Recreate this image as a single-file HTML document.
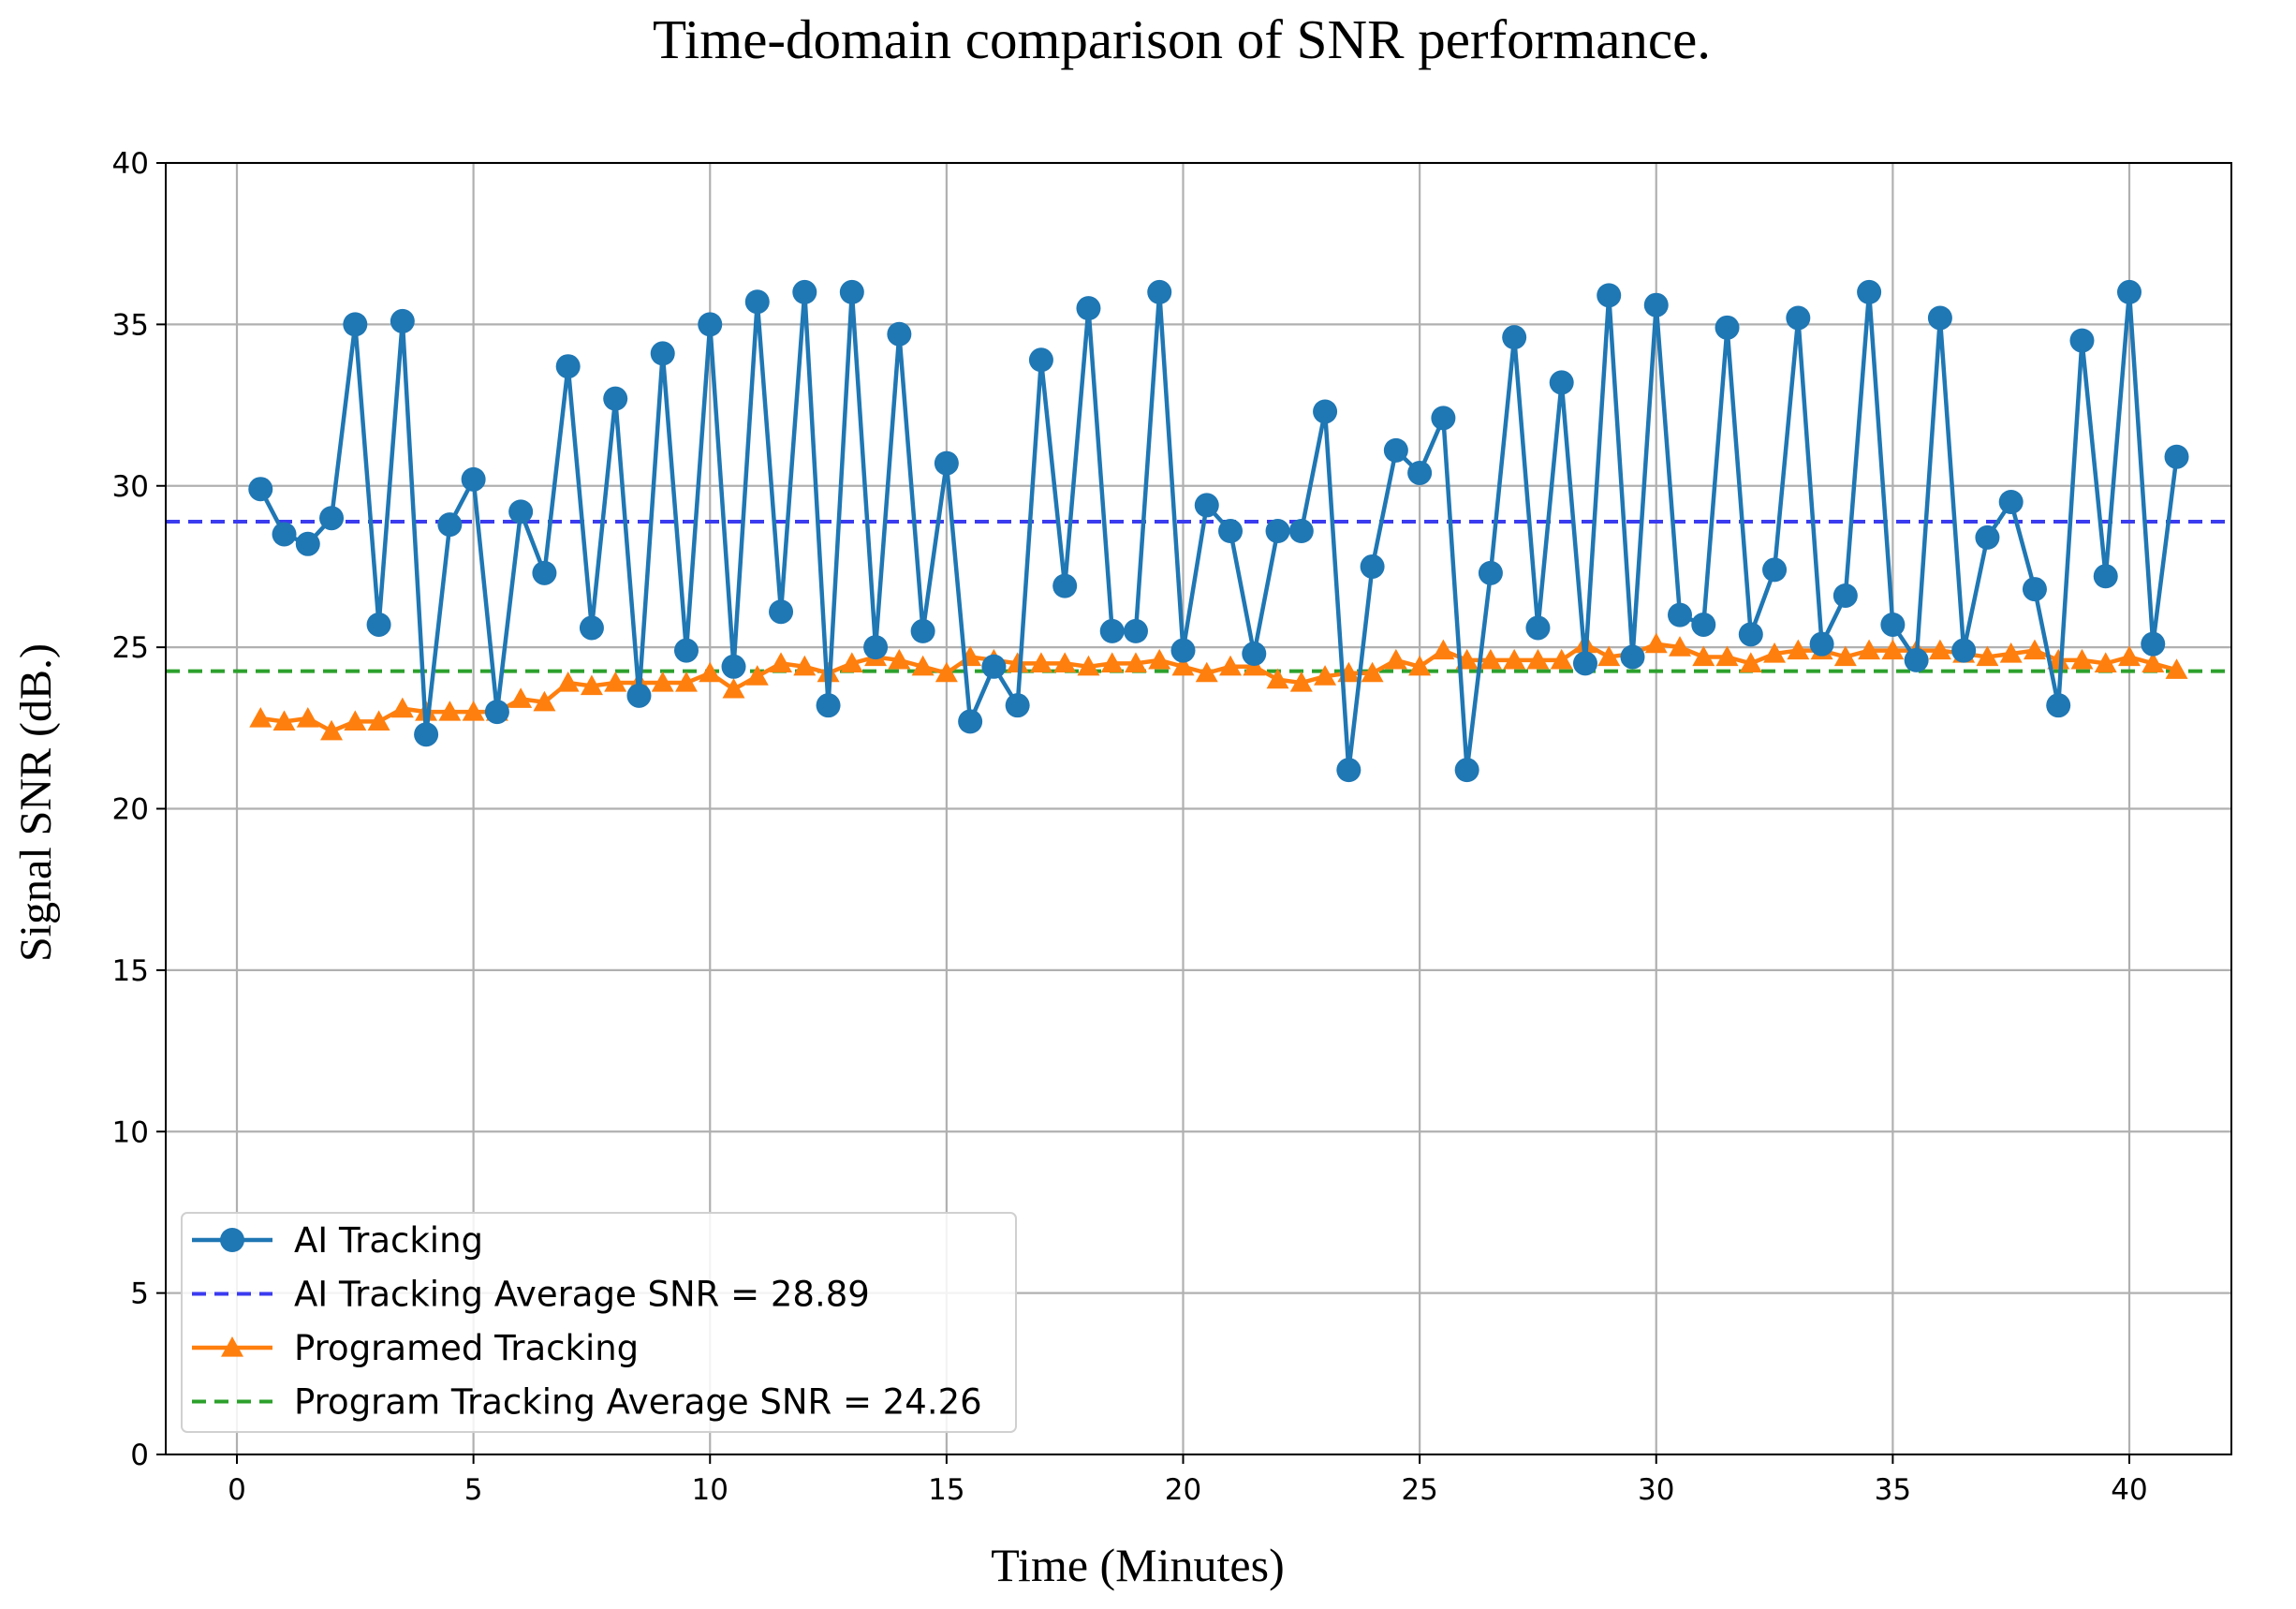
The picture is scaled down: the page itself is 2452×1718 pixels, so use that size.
<!DOCTYPE html>
<html><head><meta charset="utf-8">
<style>
html,body{margin:0;padding:0;background:#fff;}
svg{display:block;}
</style></head>
<body>
<svg id="chart" width="2452" height="1718" xmlns="http://www.w3.org/2000/svg">
<text x="1262" y="62" text-anchor="middle" font-family="Liberation Serif, serif" font-size="59">Time-domain comparison of SNR performance.</text>
<g id="grid"></g>
<g id="ticks"></g>
<g id="series"></g>
<rect x="177" y="174" width="2206" height="1379" fill="none" stroke="#000" stroke-width="2"/>
<text transform="translate(54,857) rotate(-90)" text-anchor="middle" font-family="Liberation Serif, serif" font-size="48">Signal SNR (dB.)</text>
<text x="1215" y="1688" text-anchor="middle" font-family="Liberation Serif, serif" font-size="50">Time (Minutes)</text>
<g id="legend"></g>
</svg>
<script>
const times = [];
for (let i = 1; i <= 82; i++) times.push(i * 0.5);
const aiValues = [29.9,28.5,28.2,29.0,35.0,25.7,35.1,22.3,28.8,30.2,23.0,29.2,27.3,33.7,25.6,32.7,23.5,34.1,24.9,35.0,24.4,35.7,26.1,36.0,23.2,36.0,25.0,34.7,25.5,30.7,22.7,24.4,23.2,33.9,26.9,35.5,25.5,25.5,36.0,24.9,29.4,28.6,24.8,28.6,28.6,32.3,21.2,27.5,31.1,30.4,32.1,21.2,27.3,34.6,25.6,33.2,24.5,35.9,24.7,35.6,26.0,25.7,34.9,25.4,27.4,35.2,25.1,26.6,36.0,25.7,24.6,35.2,24.9,28.4,29.5,26.8,23.2,34.5,27.2,36.0,25.1,30.9];
const progValues = [22.8,22.7,22.8,22.4,22.7,22.7,23.1,23.0,23.0,23.0,23.0,23.4,23.3,23.9,23.8,23.9,23.9,23.9,23.9,24.2,23.7,24.1,24.5,24.4,24.2,24.5,24.7,24.6,24.4,24.2,24.7,24.6,24.5,24.5,24.5,24.4,24.5,24.5,24.6,24.4,24.2,24.4,24.4,24.0,23.9,24.1,24.2,24.2,24.6,24.4,24.9,24.6,24.6,24.6,24.6,24.6,25.1,24.7,24.8,25.1,25.0,24.7,24.7,24.5,24.8,24.9,24.9,24.7,24.9,24.9,24.9,24.9,24.8,24.7,24.8,24.9,24.6,24.6,24.5,24.7,24.5,24.3];
const aiAverage = 28.89;
const progAverage = 24.26;
const xTicks = [0,5,10,15,20,25,30,35,40];
const yTicks = [0,5,10,15,20,25,30,35,40];

const NS = 'http://www.w3.org/2000/svg';
const X0 = 253, X40 = 2274, L = 177, R = 2383, T = 174, B = 1553;
const xs = v => X0 + (X40 - X0) * v / 40;
const ys = v => B - (B - T) * v / 40;
function mk(tag, attrs, parent) {
  const e = document.createElementNS(NS, tag);
  for (const k in attrs) e.setAttribute(k, attrs[k]);
  parent.appendChild(e);
  return e;
}
const grid = document.getElementById('grid');
const ticks = document.getElementById('ticks');
xTicks.forEach(t => {
  const g = mk('line', {x1: xs(t), x2: xs(t), y1: T, y2: B, stroke: '#b0b0b0', 'stroke-width': 2.2}, grid);
  
  
  mk('line', {x1: xs(t), x2: xs(t), y1: B, y2: B + 10, stroke: '#000', 'stroke-width': 2}, ticks);
  const tx = mk('text', {x: xs(t), y: B + 48, 'text-anchor': 'middle', 'font-family': 'DejaVu Sans, sans-serif', 'font-size': 31}, ticks);
  tx.textContent = t;
  
  
});
yTicks.forEach(t => {
  const g = mk('line', {x1: L, x2: R, y1: ys(t), y2: ys(t), stroke: '#b0b0b0', 'stroke-width': 2.2}, grid);
  
  
  mk('line', {x1: L - 10, x2: L, y1: ys(t), y2: ys(t), stroke: '#000', 'stroke-width': 2}, ticks);
  const tx = mk('text', {x: L - 18, y: ys(t) + 11, 'text-anchor': 'end', 'font-family': 'DejaVu Sans, sans-serif', 'font-size': 31}, ticks);
  tx.textContent = t;
  
  
});
const series = document.getElementById('series');
const aiAvg = mk('line', {x1: L, x2: R, y1: ys(aiAverage), y2: ys(aiAverage), stroke: '#3b3bf0', 'stroke-width': 4, 'stroke-dasharray': '15,9'}, series);


const prAvg = mk('line', {x1: L, x2: R, y1: ys(progAverage), y2: ys(progAverage), stroke: '#2ca02c', 'stroke-width': 4, 'stroke-dasharray': '15,9'}, series);



const tri = (cx, cy, s) => `${cx},${cy - s} ${cx - s},${cy + s * 0.8} ${cx + s},${cy + s * 0.8}`;
const pl2 = mk('polyline', {points: times.map((t, i) => xs(t) + ',' + ys(progValues[i])).join(' '), fill: 'none', stroke: '#ff7f0e', 'stroke-width': 4.5}, series);


times.forEach((t, i) => {
  const m = mk('polygon', {points: tri(xs(t), ys(progValues[i]), 12), fill: '#ff7f0e'}, series);
  
  
});
const pl = mk('polyline', {points: times.map((t, i) => xs(t) + ',' + ys(aiValues[i])).join(' '), fill: 'none', stroke: '#1f77b4', 'stroke-width': 4.5}, series);


times.forEach((t, i) => {
  const m = mk('circle', {cx: xs(t), cy: ys(aiValues[i]), r: 13, fill: '#1f77b4'}, series);
  
  
});

const legend = document.getElementById('legend');
mk('rect', {x: 194, y: 1295, width: 891, height: 234, rx: 6, fill: '#fff', 'fill-opacity': 0.85, stroke: '#d0d0d0', 'stroke-width': 2}, legend);
const entries = [
  {label: 'AI Tracking', color: '#1f77b4', kind: 'circle'},
  {label: 'AI Tracking Average SNR = 28.89', color: '#3b3bf0', kind: 'dash'},
  {label: 'Programed Tracking', color: '#ff7f0e', kind: 'tri'},
  {label: 'Program Tracking Average SNR = 24.26', color: '#2ca02c', kind: 'dash'}
];
entries.forEach((e, i) => {
  const y = 1324 + i * 57.5;
  const g = mk('g', {}, legend);
  
  
  if (e.kind === 'dash') {
    mk('line', {x1: 205, x2: 291, y1: y, y2: y, stroke: e.color, 'stroke-width': 4, 'stroke-dasharray': '15,9'}, g);
  } else {
    mk('line', {x1: 205, x2: 291, y1: y, y2: y, stroke: e.color, 'stroke-width': 4.5}, g);
    if (e.kind === 'circle') mk('circle', {cx: 248, cy: y, r: 13, fill: e.color}, g);
    else mk('polygon', {points: tri(248, y, 12), fill: e.color}, g);
  }
  const tx = mk('text', {x: 314, y: y + 13, 'font-family': 'DejaVu Sans, sans-serif', 'font-size': 37}, g);
  tx.textContent = e.label;
});
</script>
</body></html>
